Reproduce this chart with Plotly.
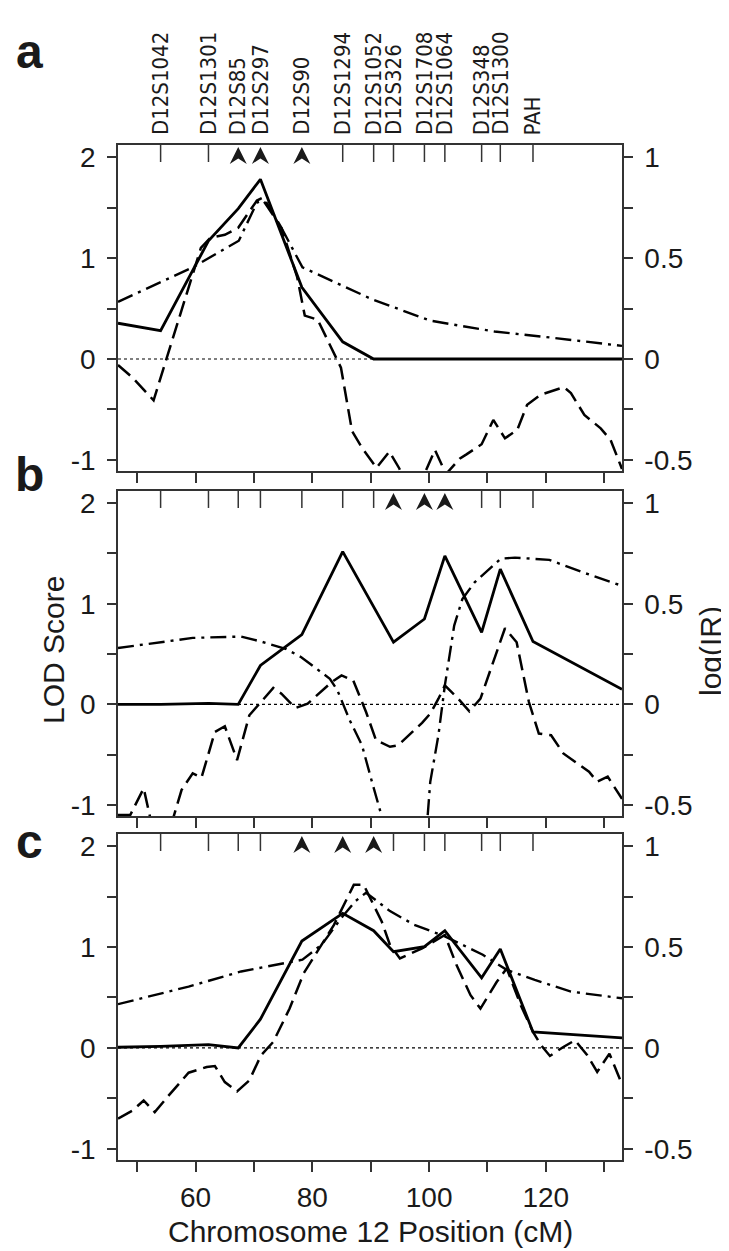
import plotly.graph_objects as go

# ---------------- data ----------------
marker_names = ["D12S1042", "D12S1301", "D12S85", "D12S297", "D12S90", "D12S1294",
                "D12S1052", "D12S326", "D12S1708", "D12S1064", "D12S348", "D12S1300", "PAH"]
marker_cm = [54.0, 62.2, 67.3, 71.1, 78.2, 85.2, 90.5, 93.9, 99.2, 102.7, 109.0, 112.2, 117.8]

arrows_a = ["D12S85", "D12S297", "D12S90"]
arrows_b = ["D12S326", "D12S1708", "D12S1064"]
arrows_c = ["D12S90", "D12S1294", "D12S1052"]

# solid LOD curves (evaluated at the markers + chart ends)
solid_cm = [46.7, 54.0, 62.2, 67.3, 71.1, 78.2, 85.2, 90.5, 93.9, 99.2, 102.7, 109.0, 112.2, 117.8, 133.05]
solid_a = [0.354, 0.281, 1.17, 1.49, 1.78, 0.71, 0.17, 0.0, 0.0, 0.0, 0.0, 0.0, 0.0, 0.0, 0.0]
solid_b = [0.0, 0.0, 0.01, 0.0, 0.386, 0.693, 1.518, 0.97, 0.617, 0.848, 1.475, 0.716, 1.343, 0.624, 0.149]
solid_c = [0.007, 0.015, 0.033, 0.0, 0.285, 1.06, 1.334, 1.162, 0.954, 1.003, 1.162, 0.695, 0.98, 0.159, 0.099]

# dashed LOD curves
dashed_a_cm = [46.7, 49.2, 52.8, 60.9, 62.5, 65.0, 67.3, 70.5, 71.6, 74.7, 77.4, 78.7, 80.9, 84.9,
               86.8, 88.5, 91.0, 93.2, 94.9, 96.5, 98.0, 101.0, 102.9, 105.3, 106.4, 109.0, 111.0,
               113.0, 115.1, 116.8, 119.1, 123.1, 124.3, 126.6, 129.4, 131.1, 133.05]
dashed_a = [-0.06, -0.185, -0.41, 1.10, 1.20, 1.23, 1.30, 1.57, 1.60, 1.30, 0.81, 0.43, 0.39, -0.086,
            -0.715, -0.88, -1.078, -0.918, -1.085, -1.30, -1.30, -0.90, -1.14, -0.985, -0.945, -0.845, -0.604,
            -0.786, -0.703, -0.454, -0.355, -0.279, -0.338, -0.554, -0.687, -0.803, -1.09]

dashed_b_cm = [46.7, 48.8, 51.1, 52.5, 54.5, 55.8, 57.6, 59.5, 61.0, 63.3, 65.0, 67.1, 69.2, 73.3,
               74.7, 77.1, 79.2, 83.3, 85.0, 87.0, 89.2, 90.9, 93.3, 94.7, 98.8, 100.2, 101.6,
               102.7, 105.0, 106.9, 108.8, 113.0, 115.0, 117.1, 118.8, 120.9, 123.0, 125.0,
               127.4, 128.8, 130.6, 133.05]
dashed_b = [-1.10, -1.10, -0.835, -1.20, -1.35, -1.20, -0.85, -0.686, -0.729, -0.274, -0.218, -0.554, -0.109, 0.162,
            0.106, -0.036, 0.007, 0.221, 0.287, 0.238, -0.076, -0.356, -0.422, -0.406, -0.185, -0.092, 0.056,
            0.188, 0.056, -0.069, 0.056, 0.756, 0.617, 0.023, -0.29, -0.307, -0.488, -0.571,
            -0.67, -0.769, -0.719, -0.94]

dashed_c_cm = [46.7, 49.2, 51.1, 53.0, 55.4, 58.8, 61.9, 63.3, 65.0, 67.1, 69.2, 71.2, 73.3, 76.1,
               78.5, 81.6, 83.7, 87.1, 88.8, 91.9, 93.3, 95.0, 98.8, 102.7, 104.7, 107.1, 108.8,
               111.6, 113.3, 115.7, 117.8, 119.2, 120.7, 123.0, 125.0, 127.1, 128.8, 130.9, 133.05]
dashed_c = [-0.70, -0.619, -0.52, -0.636, -0.47, -0.245, -0.189, -0.179, -0.338, -0.43, -0.321, -0.073, 0.06, 0.391,
            0.738, 1.02, 1.219, 1.616, 1.616, 1.25, 1.02, 0.887, 0.987, 1.119, 0.821, 0.523, 0.39,
            0.656, 0.788, 0.424, 0.159, 0.026, -0.079, 0.01, 0.076, -0.073, -0.238, -0.056, -0.36]

# dash-dot log(IR) curves (right axis)
logir_a_cm = [46.7, 59.5, 67.4, 70.5, 71.6, 74.7, 78.3, 90.2, 100.2, 111.2, 120.9, 133.05]
logir_a = [0.283, 0.454, 0.586, 0.775, 0.785, 0.65, 0.454, 0.296, 0.19, 0.136, 0.106, 0.065]

logir_b_cm = [46.7, 59.5, 67.8, 71.2, 75.4, 78.1, 83.0, 84.3, 86.4, 88.5, 90.2, 91.2, 92.5, 95.0,
              97.0, 99.5, 100.2, 101.6, 102.7, 104.3, 105.7, 107.8, 112.3, 114.7, 120.6, 126.4, 133.05]
logir_b = [0.28, 0.33, 0.337, 0.312, 0.276, 0.234, 0.127, 0.069, -0.079, -0.203, -0.384, -0.48, -0.62, -0.9,
           -0.9, -0.65, -0.385, -0.153, 0.094, 0.391, 0.523, 0.606, 0.724, 0.729, 0.718, 0.655, 0.589]

logir_c_cm = [46.7, 58.8, 67.8, 75.7, 78.3, 81.6, 85.0, 87.4, 89.2, 93.3, 97.4, 102.7, 109.2, 113.3,
              118.1, 124.3, 133.05]
logir_c = [0.217, 0.304, 0.379, 0.42, 0.437, 0.512, 0.645, 0.728, 0.769, 0.678, 0.611, 0.553, 0.462, 0.387,
           0.337, 0.279, 0.246]

x_ticks = [50, 60, 70, 80, 90, 100, 110, 120, 130]
x_ticktext = ["", "60", "", "80", "", "100", "", "120", ""]
lod_ticks = [-1, -0.5, 0, 0.5, 1, 1.5, 2]
lod_ticktext = ["-1", "", "0", "", "1", "", "2"]
ir_ticks = [-0.5, -0.25, 0, 0.25, 0.5, 0.75, 1]
ir_ticktext = ["-0.5", "", "0", "", "0.5", "", "1"]

panel_letters = ["a", "b", "c"]

# ---------------- style / layout constants ----------------
FONT = "Liberation Sans, Arial, Helvetica, sans-serif"
NARROW = "Liberation Sans Narrow, Arial Narrow, DejaVu Sans Condensed, Liberation Sans, sans-serif"
AX = "#333333"
TXT = "#1a1a1a"
X_RANGE = [46.7, 133.05]
LOD_RANGE = [-1.11, 2.12]
IR_RANGE = [-0.555, 1.06]
W, H = 729, 1251
ML, MR, MT, MB = 110, 115, 137, 99
PLOT_H = H - MT - MB
PLOT_W = W - ML - MR
PANEL_PX = 326
domains = [[0.6788, 1.0], [0.3389, 0.6591], [0.0, 0.3212]]
px_per_cm = PLOT_W / (X_RANGE[1] - X_RANGE[0])
TICK_FS = 28

fig = go.Figure()

panels = [
    (solid_a, dashed_a_cm, dashed_a, logir_a_cm, logir_a, arrows_a),
    (solid_b, dashed_b_cm, dashed_b, logir_b_cm, logir_b, arrows_b),
    (solid_c, dashed_c_cm, dashed_c, logir_c_cm, logir_c, arrows_c),
]

shapes = []
annotations = []
layout_axes = {}

for i, (sol, dcm, dval, icm, ival, arrows) in enumerate(panels):
    xn = "x" if i == 0 else f"x{i+1}"
    yl = "y" if i == 0 else f"y{2*i+1}"
    yr = f"y{2*i+2}"
    xkey = "xaxis" if i == 0 else f"xaxis{i+1}"
    ylkey = "yaxis" if i == 0 else f"yaxis{2*i+1}"
    yrkey = f"yaxis{2*i+2}"

    fig.add_trace(go.Scatter(x=icm, y=ival, xaxis=xn, yaxis=yr, mode="lines",
                             line=dict(color="black", width=2.4, dash="16px,6px,3px,6px"),
                             showlegend=False, hoverinfo="skip"))
    fig.add_trace(go.Scatter(x=dcm, y=dval, xaxis=xn, yaxis=yl, mode="lines",
                             line=dict(color="black", width=2.5, dash="16px,7px"),
                             showlegend=False, hoverinfo="skip"))
    fig.add_trace(go.Scatter(x=solid_cm, y=sol, xaxis=xn, yaxis=yl, mode="lines",
                             line=dict(color="black", width=2.8),
                             showlegend=False, hoverinfo="skip"))

    layout_axes[xkey] = dict(domain=[0, 1], anchor=yl, range=X_RANGE, tickvals=x_ticks,
                             ticktext=x_ticktext, showticklabels=(i == 2), ticks="outside",
                             ticklen=10, tickwidth=1.5, tickcolor=AX, showline=True, linecolor=AX,
                             linewidth=1.5, mirror=True, showgrid=False, zeroline=False,
                             ticklabelstandoff=2,
                             tickfont=dict(size=TICK_FS, color=TXT, family=FONT))
    layout_axes[ylkey] = dict(domain=domains[i], anchor=xn, range=LOD_RANGE, tickvals=lod_ticks,
                              ticktext=lod_ticktext, ticks="outside", ticklen=9, tickwidth=1.5,
                              tickcolor=AX, showline=True, linecolor=AX, linewidth=1.5,
                              showgrid=False, zeroline=False, ticklabelstandoff=6,
                              tickfont=dict(size=TICK_FS, color=TXT, family=FONT))
    layout_axes[yrkey] = dict(overlaying=yl, side="right", anchor=xn, range=IR_RANGE,
                              tickvals=ir_ticks, ticktext=ir_ticktext, ticks="outside", ticklen=9,
                              tickwidth=1.5, tickcolor=AX, showline=True, linecolor=AX,
                              linewidth=1.5, showgrid=False, zeroline=False, ticklabelstandoff=6,
                              tickfont=dict(size=TICK_FS, color=TXT, family=FONT))

    # dotted zero line
    shapes.append(dict(type="line", xref=f"{xn} domain", yref=yl, x0=0, x1=1, y0=0, y1=0,
                       line=dict(color="black", width=1.2, dash="dot"), layer="below"))

    # marker tick marks (inside, from the top frame) and arrowheads
    tick_len = 17 / PANEL_PX
    dx = 8.5 / px_per_cm
    y_tip = 1 - 2 / PANEL_PX
    y_base = 1 - 19 / PANEL_PX
    y_notch = 1 - 13.5 / PANEL_PX
    for name, cm in zip(marker_names, marker_cm):
        if name in arrows:
            path = (f"M {cm - dx},{y_base} L {cm},{y_tip} L {cm + dx},{y_base} "
                    f"L {cm},{y_notch} Z")
            shapes.append(dict(type="path", xref=xn, yref=f"{yl} domain", path=path,
                               fillcolor="#1a1a1a", line=dict(width=0)))
        else:
            shapes.append(dict(type="line", xref=xn, yref=f"{yl} domain", x0=cm, x1=cm,
                               y0=1, y1=1 - tick_len, line=dict(color=AX, width=1.5)))

# marker names above panel a
for name, cm in zip(marker_names, marker_cm):
    annotations.append(dict(x=cm, xref="x", y=(H - MB - 129) / PLOT_H, yref="paper",
                            text=name, textangle=-90, showarrow=False, xanchor="center",
                            yanchor="bottom", font=dict(size=22, color=TXT, family=NARROW)))

# panel letters
letter_y = [44, 466, 833]
for lt, yy in zip(panel_letters, letter_y):
    annotations.append(dict(x=(21 - ML) / PLOT_W, xref="paper", y=(H - MB - yy) / PLOT_H,
                            yref="paper", text=f"<b>{lt}</b>", showarrow=False, xanchor="center",
                            yanchor="middle", font=dict(size=48, color=TXT, family=FONT)))

# axis titles
annotations.append(dict(x=(45 - ML) / PLOT_W, xref="paper", y=(H - MB - 642) / PLOT_H, yref="paper",
                        text="LOD Score", textangle=-90, showarrow=False, xanchor="center",
                        yanchor="middle", font=dict(size=30, color=TXT, family=FONT)))
annotations.append(dict(x=(702 - ML) / PLOT_W, xref="paper", y=(H - MB - 643) / PLOT_H, yref="paper",
                        text="log(IR)", textangle=-90, showarrow=False, xanchor="center",
                        yanchor="middle", font=dict(size=30, color=TXT, family=FONT)))
annotations.append(dict(x=0.5, xref="paper", y=(H - MB - 1223) / PLOT_H, yref="paper",
                        text="Chromosome 12 Position (cM)", showarrow=False, xanchor="center",
                        yanchor="middle", font=dict(size=30, color=TXT, family=FONT)))

fig.update_layout(
    width=W, height=H,
    margin=dict(l=ML, r=MR, t=MT, b=MB, autoexpand=False),
    paper_bgcolor="white", plot_bgcolor="white",
    font=dict(family=FONT, color=TXT),
    shapes=shapes, annotations=annotations,
    showlegend=False,
    **layout_axes,
)

fig.write_html("out.html")
